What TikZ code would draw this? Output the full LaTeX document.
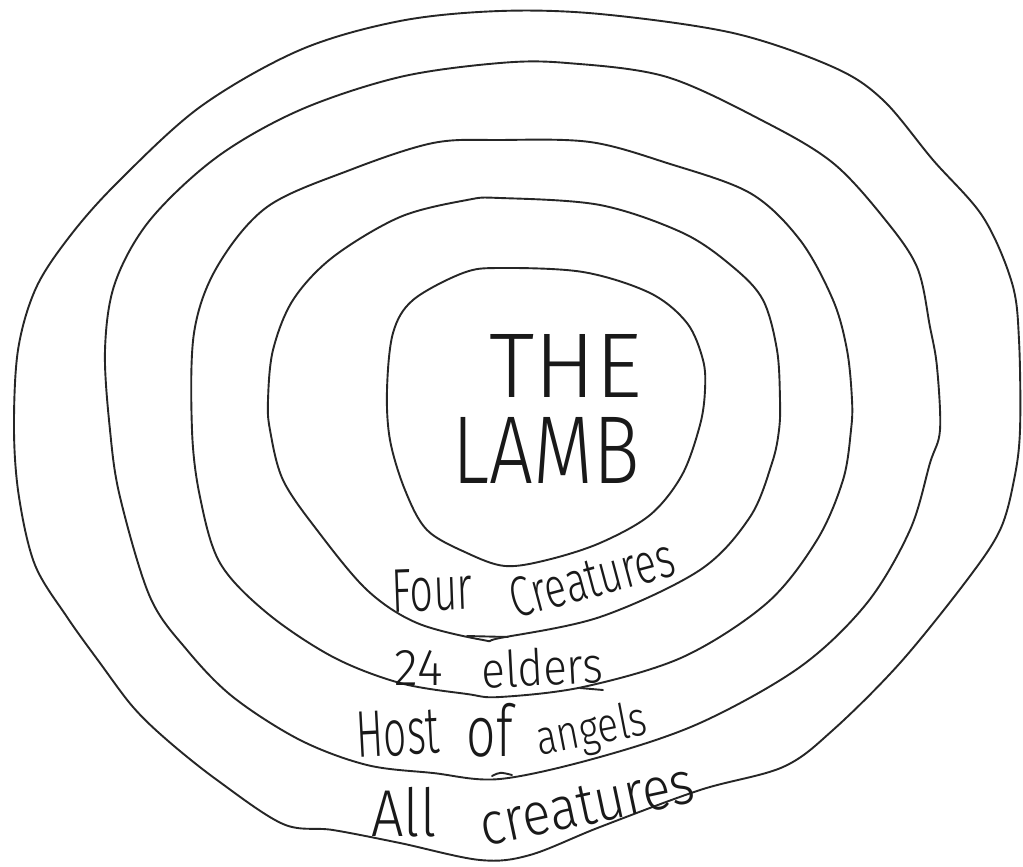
\documentclass[tikz,border=0pt]{standalone}
\usepackage{fontspec}
\usepackage{graphicx}
\IfFontExistsTF{Fira Sans Light}{\newfontfamily\hand{Fira Sans Light}}{\newfontfamily\hand{Fira Sans}}
\newcommand\fitto[3]{\resizebox*{#1pt}{#2pt}{\hand #3}}
\tikzset{
  ring/.style={draw=black!85,line width=1.9pt,line join=round,line cap=round},
  lbl/.style={inner sep=0pt,outer sep=0pt,text=black!90}
}
\begin{document}
\begin{tikzpicture}[x=1pt,y=-1pt]
\fill[white] (0,0) rectangle (1023,867);
\useasboundingbox (0,0) rectangle (1023,867);

% outermost ring
\draw[ring] plot[smooth cycle,tension=0.55] coordinates{
 (500,11) (600,14) (733,33) (833,67) (883,100) (933,160) (983,217) (1012,283)
 (1019,340) (1020,430) (1014,480) (1000,530) (967,580) (900,663) (833,730)
 (783,767) (700,790) (600,827) (530,855) (480,860) (400,843) (333,830) (283,824)
 (217,780) (167,740) (133,707) (100,663) (67,617) (35,565) (19,497) (14,430)
 (18,350) (36,288) (70,236) (117,183) (200,107) (300,50) (400,21)};

% ring 4
\draw[ring] plot[smooth cycle,tension=0.55] coordinates{
 (500,63) (567,63) (667,77) (767,123) (833,163) (883,217) (917,267) (930,327)
 (937,367) (940,430) (930,463) (910,530) (867,603) (800,667) (700,723) (600,757)
 (500,779) (433,773) (367,765) (300,740) (233,697) (187,650) (150,597) (120,497)
 (110,430) (105,350) (115,283) (150,220) (217,157) (300,110) (400,77)};

% ring 3
\draw[ring] plot[smooth cycle,tension=0.55] coordinates{
 (500,140) (590,142) (667,163) (750,193) (800,240) (833,300) (847,350) (852,400)
 (851,430) (843,480) (817,540) (767,603) (683,657) (583,687) (500,697) (467,694)
 (400,683) (333,657) (267,613) (220,563) (200,497) (192,430) (194,333) (217,267)
 (267,207) (350,170) (433,143)};

% ring 2
\draw[ring] plot[smooth cycle,tension=0.55] coordinates{
 (500,198) (600,205) (683,233) (733,267) (763,300) (777,350) (780,400) (779,430)
 (772,463) (750,517) (700,570) (600,617) (500,638) (483,640) (417,623) (367,590)
 (317,530) (283,480) (270,430) (268,400) (273,350) (293,300) (333,257) (400,217)
 (467,200)};

% ring 1 (the lamb)
\draw[ring] plot[smooth cycle,tension=0.55] coordinates{
 (500,268) (583,272) (650,293) (687,323) (703,360) (705,390) (700,425) (682,475)
 (650,515) (600,543) (547,560) (505,566) (467,553) (427,530) (405,490) (390,440)
 (387,390) (393,333) (413,300) (463,273)};

% small overlapping pen strokes
\draw[ring] (467,636) -- (508,637);
\draw[ring] (580,688) -- (603,690);
\draw[ring] (492,776) .. controls (500,772) .. (512,775);

% texts
\node[lbl] (the) at (566,366) {\fitto{153}{63}{THE}};
\node[lbl] (lamb) at (546,450) {\fitto{187}{66}{LAMB}};

\node[lbl,rotate=2] (four) at (432,590) {\fitto{81}{43}{Four}};
\node[lbl,rotate=15] (creat1) at (592,578) {\fitto{168}{40}{Creatures}};

\node[lbl] (tf) at (419,668) {\fitto{48}{35}{24}};
\node[lbl,rotate=3] (elders) at (542,667) {\fitto{121}{38}{elders}};

\node[lbl,rotate=3] (host) at (398,733) {\fitto{83}{46}{Host}};
\node[lbl] (of) at (490,730) {\fitto{46}{54}{of}};
\node[lbl,rotate=11] (angels) at (592,732) {\fitto{112}{46}{angels}};

\node[lbl] (all) at (404,812) {\fitto{65}{50}{All}};
\node[lbl,rotate=12] (creat2) at (587,805) {\fitto{218}{40}{creatures}};
\end{tikzpicture}
\end{document}
